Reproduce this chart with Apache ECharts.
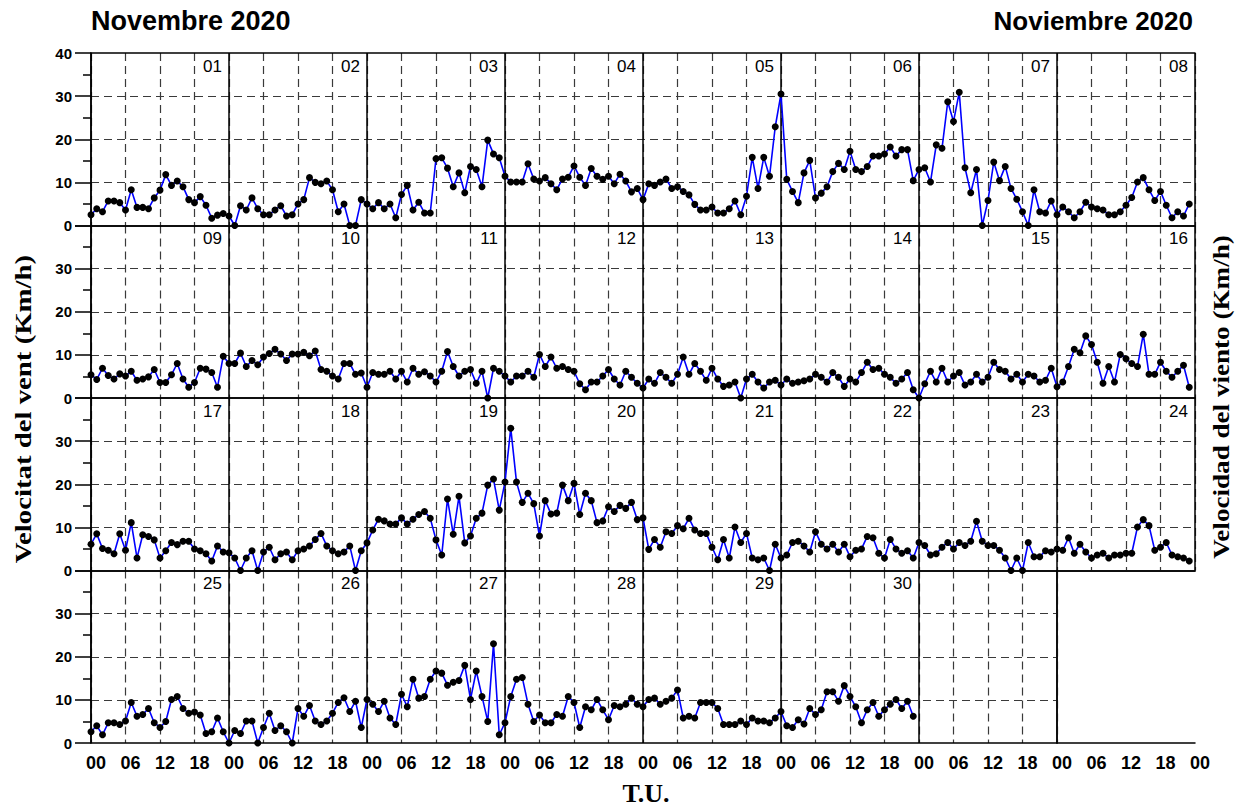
<!DOCTYPE html>
<html>
<head>
<meta charset="utf-8">
<title>Velocitat del vent - Novembre 2020</title>
<script src="https://cdn.jsdelivr.net/npm/echarts@6/dist/echarts.min.js"></script>
<style>
  html, body { margin: 0; padding: 0; background: #fff; }
  #chart { width: 1251px; height: 812px; }
</style>
</head>
<body>
<div id="chart"></div>
<script>
// hourly wind speed (km/h), one array per day, hours 00..23
const day01 = [2.5, 3.9, 3.2, 5.7, 5.7, 5.3, 3.6, 8.3, 4.2, 4.2, 3.9, 6.4, 8.2, 11.8, 9.3, 10.3, 9.0, 6.0, 5.3, 6.7, 4.7, 1.7, 2.4, 2.8];
const day02 = [2.2, 0, 4.6, 3.6, 6.4, 3.9, 2.5, 2.5, 3.6, 4.6, 2.2, 2.5, 5.0, 6.0, 11.1, 10.0, 9.7, 10.3, 8.3, 3.2, 5.0, 0, 0, 6.0];
const day03 = [5.0, 3.9, 5.3, 3.9, 5.0, 1.8, 7.2, 9.3, 3.6, 5.4, 2.9, 2.9, 15.5, 15.7, 13.3, 9.0, 12.2, 7.6, 13.7, 13.0, 9.0, 19.8, 16.6, 15.7];
const day04 = [11.4, 10.1, 10.1, 10.1, 14.3, 10.8, 10.3, 11.1, 9.7, 8.3, 10.8, 11.2, 13.8, 11.2, 9.3, 13.2, 11.4, 10.7, 11.4, 9.7, 11.9, 10.3, 7.8, 8.6];
const day05 = [6.0, 9.7, 9.3, 10.1, 10.8, 8.6, 9.0, 7.9, 7.1, 4.9, 3.6, 3.6, 4.3, 2.9, 2.9, 3.9, 5.7, 2.5, 6.8, 15.8, 8.6, 15.8, 11.4, 22.9];
const day06 = [30.5, 10.7, 7.9, 5.3, 12.2, 15.1, 6.4, 7.5, 9.0, 12.5, 14.4, 13.0, 17.2, 13.0, 12.5, 13.7, 16.1, 16.1, 16.6, 18.2, 16.1, 17.6, 17.6, 10.4];
const day07 = [13.0, 13.4, 10.1, 18.7, 17.9, 28.7, 24.1, 30.9, 13.4, 7.6, 13.0, 0, 5.8, 14.7, 10.4, 13.7, 8.6, 6.1, 3.2, 0, 8.3, 3.2, 2.9, 5.7];
const day08 = [2.5, 4.3, 3.2, 1.8, 3.2, 5.4, 4.3, 3.9, 3.6, 2.5, 2.5, 3.2, 4.7, 6.5, 10.1, 11.1, 8.3, 5.8, 7.9, 4.7, 1.8, 3.2, 2.2, 5.0];
const day09 = [5.4, 4.3, 6.9, 5.2, 4.4, 5.6, 5.1, 6.2, 4.1, 4.4, 4.9, 6.6, 3.6, 3.6, 5.4, 8.0, 4.4, 2.5, 3.6, 6.9, 6.7, 5.9, 2.5, 9.7];
const day10 = [8.0, 8.0, 10.4, 7.3, 8.7, 7.7, 9.5, 10.3, 11.3, 10.2, 8.7, 10.2, 10.2, 10.6, 9.8, 10.9, 6.6, 6.2, 5.1, 4.4, 8.0, 8.0, 5.5, 5.8];
const day11 = [2.5, 5.9, 5.5, 5.5, 6.2, 4.4, 6.2, 3.7, 6.9, 5.5, 6.1, 5.1, 3.7, 6.2, 10.8, 7.3, 5.1, 6.2, 6.6, 3.4, 6.2, 0, 6.9, 6.2];
const day12 = [5.1, 3.7, 5.1, 5.1, 6.2, 4.8, 10.1, 7.3, 9.5, 6.9, 7.3, 6.6, 6.2, 3.3, 1.9, 3.7, 3.7, 5.1, 6.6, 4.4, 3.0, 6.2, 4.8, 3.4];
const day13 = [2.3, 4.4, 3.4, 5.9, 4.8, 3.4, 5.5, 9.5, 5.5, 8.0, 6.2, 4.1, 6.9, 4.4, 2.7, 3.0, 3.7, 0, 4.4, 5.5, 3.7, 2.3, 3.7, 4.1];
const day14 = [3.0, 4.4, 3.4, 3.7, 4.0, 4.4, 5.5, 4.8, 3.7, 5.9, 4.8, 2.7, 4.4, 3.7, 5.9, 8.3, 6.6, 6.9, 5.5, 4.8, 3.4, 4.4, 5.9, 1.9];
const day15 = [0, 3.3, 6.2, 3.7, 6.9, 3.7, 5.1, 5.9, 3.0, 3.7, 5.5, 3.7, 4.8, 8.3, 6.6, 6.2, 4.4, 5.5, 3.7, 5.5, 5.1, 3.7, 4.1, 6.9];
const day16 = [2.6, 3.7, 7.3, 11.3, 10.5, 14.4, 12.4, 8.3, 3.4, 7.3, 3.7, 10.1, 9.1, 8.0, 7.3, 14.8, 5.5, 5.5, 8.3, 6.2, 4.8, 6.2, 7.6, 2.5];
const day17 = [6.1, 8.5, 5.1, 4.7, 3.9, 8.5, 4.7, 11.1, 2.9, 8.3, 7.9, 7.1, 2.9, 4.6, 6.5, 6.0, 6.8, 6.8, 5.0, 4.6, 3.9, 2.2, 5.7, 4.3];
const day18 = [4.1, 2.9, 0, 2.9, 4.6, 0, 4.3, 5.4, 2.5, 3.9, 4.3, 2.5, 4.6, 5.0, 5.7, 7.2, 8.6, 5.7, 4.6, 3.9, 4.3, 5.7, 0, 4.6];
const day19 = [6.4, 9.4, 11.9, 11.5, 10.8, 10.8, 12.2, 10.8, 11.9, 13.0, 13.7, 12.1, 7.1, 3.6, 16.6, 8.4, 17.2, 6.4, 8.0, 12.1, 13.3, 19.8, 21.2, 14.0];
const day20 = [20.5, 33.0, 20.5, 15.8, 17.9, 15.5, 8.0, 16.2, 13.1, 13.3, 19.8, 16.2, 20.2, 13.0, 17.9, 16.2, 11.1, 11.5, 14.8, 13.7, 15.1, 14.4, 15.8, 11.8];
const day21 = [12.2, 4.9, 7.2, 5.4, 9.0, 8.6, 10.4, 9.7, 12.1, 9.4, 8.6, 8.6, 5.4, 2.5, 7.2, 2.9, 10.1, 6.5, 8.6, 2.9, 2.5, 2.9, 0, 6.1];
const day22 = [2.9, 3.6, 6.5, 6.8, 5.7, 4.3, 9.0, 6.1, 5.0, 6.1, 4.3, 6.1, 3.2, 4.7, 5.0, 7.9, 7.6, 4.0, 2.9, 7.2, 5.0, 4.0, 4.6, 2.9];
const day23 = [6.5, 5.8, 3.6, 3.9, 5.4, 6.5, 5.0, 6.5, 5.8, 6.8, 11.4, 6.8, 5.8, 5.8, 4.7, 2.9, 0, 2.9, 0, 6.5, 3.2, 3.2, 4.6, 4.3];
const day24 = [5.0, 4.7, 7.6, 4.0, 6.1, 4.3, 2.9, 3.6, 4.0, 2.9, 3.6, 3.6, 4.0, 4.0, 10.1, 11.8, 10.4, 4.7, 5.4, 6.5, 3.6, 3.2, 2.9, 2.2];
const day25 = [2.6, 4.0, 1.9, 4.7, 4.7, 4.3, 5.1, 9.4, 6.2, 6.6, 8.0, 4.7, 3.6, 5.0, 10.1, 10.8, 8.0, 6.9, 7.2, 6.5, 2.2, 2.6, 5.8, 2.6];
const day26 = [0, 2.9, 2.2, 5.1, 5.1, 0, 3.6, 6.9, 2.9, 4.0, 2.6, 0, 8.0, 6.2, 8.7, 5.1, 4.3, 5.1, 6.9, 9.4, 10.5, 7.3, 9.7, 3.6];
const day27 = [10.1, 9.0, 7.3, 9.7, 5.8, 4.3, 11.3, 8.4, 14.8, 10.4, 10.8, 14.8, 16.7, 16.2, 13.4, 14.1, 14.5, 18.0, 10.1, 16.7, 10.8, 5.0, 23.0, 1.9];
const day28 = [4.7, 10.8, 14.8, 15.2, 9.0, 5.0, 6.5, 4.7, 4.7, 6.6, 6.2, 10.8, 9.4, 3.6, 8.4, 7.7, 10.1, 7.7, 5.4, 8.7, 8.4, 9.0, 10.4, 9.0];
const day29 = [8.4, 10.1, 10.4, 9.0, 9.7, 10.4, 12.3, 5.8, 6.2, 5.8, 9.4, 9.4, 9.4, 8.0, 4.3, 4.3, 4.3, 5.1, 4.3, 5.8, 5.1, 5.1, 4.7, 5.8];
const day30 = [7.3, 4.0, 3.6, 5.4, 4.4, 8.0, 6.6, 7.7, 11.9, 11.9, 9.7, 13.3, 10.8, 8.4, 4.7, 7.7, 9.4, 6.2, 7.7, 9.0, 10.1, 8.0, 9.7, 6.2];

const days = [day01, day02, day03, day04, day05, day06, day07, day08, day09, day10,
  day11, day12, day13, day14, day15, day16, day17, day18, day19, day20,
  day21, day22, day23, day24, day25, day26, day27, day28, day29, day30];
const dayLabels = ['01', '02', '03', '04', '05', '06', '07', '08', '09', '10',
  '11', '12', '13', '14', '15', '16', '17', '18', '19', '20',
  '21', '22', '23', '24', '25', '26', '27', '28', '29', '30'];
const hourLabels = ['00', '06', '12', '18'];

// layout (px)
const LEFT = 91;
const TOP = 53;
const DAY_W = 138;
const ROW_H = 172.5;
const PER_ROW = 8;
const SANS = '"Liberation Sans", Arial, sans-serif';
const SERIF = '"Liberation Serif", "Times New Roman", serif';

const dashed = { color: '#3a3a3a', width: 1.2, type: [8, 5] };
const solid = { color: '#000', width: 1.5 };

const hourFmt = (v) => hourLabels[(v % 24) / 6];
const xLabel = {
  show: true,
  color: '#000',
  fontFamily: SANS,
  fontWeight: 'bold',
  fontSize: 18,
  margin: 11,
  padding: [0, 0, 0, 10],
  formatter: hourFmt,
};

const grid = [];
const xAxis = [];
const yAxis = [];
const series = [];

for (let r = 0; r < 4; r++) {
  const rowDays = days.slice(r * PER_ROW, r * PER_ROW + PER_ROW);
  const cols = r < 3 ? 8 : 7; // last row: one empty framed day, then a blank box
  const maxH = cols * 24;
  const top = TOP + r * ROW_H;
  const isLast = r === 3;

  grid.push({ left: LEFT, top, width: cols * DAY_W, height: ROW_H });

  // 6-hourly dashed grid (+ bottom line, + hour labels on the last row)
  xAxis.push({
    type: 'value', gridIndex: r, min: 0, max: maxH, interval: 6, position: 'bottom', z: 1,
    axisLine: { show: true, lineStyle: solid },
    axisTick: { show: false },
    axisLabel: isLast ? xLabel : { show: false },
    splitLine: { show: true, lineStyle: dashed },
  });
  // day boundaries, solid (+ top line)
  xAxis.push({
    type: 'value', gridIndex: r, min: 0, max: maxH, interval: 24, position: 'top', z: 2,
    axisLine: { show: true, lineStyle: solid },
    axisTick: { show: false },
    axisLabel: { show: false },
    splitLine: { show: true, lineStyle: solid },
  });
  yAxis.push({
    type: 'value', gridIndex: r, min: 0, max: 40, interval: 10, position: 'left', z: 2,
    axisLine: { show: true, lineStyle: solid },
    axisTick: { show: true, length: 16, lineStyle: solid },
    minorTick: { show: true, splitNumber: 2, length: 8, lineStyle: solid },
    axisLabel: {
      color: '#000', fontFamily: SANS, fontWeight: 'bold', fontSize: 15, margin: 19,
      showMaxLabel: r === 0,
    },
    splitLine: { show: true, showMinLine: false, showMaxLine: false, lineStyle: dashed },
  });

  series.push({
    type: 'line',
    xAxisIndex: 2 * r,
    yAxisIndex: r,
    data: rowDays.flatMap((vals, k) => vals.map((v, h) => [k * 24 + h, v])),
    symbol: 'circle',
    symbolSize: 7,
    showAllSymbol: true,
    itemStyle: { color: '#000' },
    lineStyle: { color: '#0000ff', width: 1.6 },
    z: 10,
    animation: false,
    silent: true,
  });
  // day number in the upper right corner of each day box
  series.push({
    type: 'scatter',
    xAxisIndex: 2 * r + 1,
    yAxisIndex: r,
    data: rowDays.map((vals, k) => [(k + 1) * 24, 40, dayLabels[r * PER_ROW + k]]),
    symbolSize: 0,
    silent: true,
    animation: false,
    z: 11,
    label: {
      show: true,
      position: 'left',
      distance: 7,
      offset: [0, 13],
      color: '#000',
      opacity: 1,
      fontFamily: SANS,
      fontSize: 17,
      formatter: (p) => p.data[2],
    },
  });
}

// blank box at the end of the last row
const lastTop = TOP + 3 * ROW_H;
grid.push({ left: LEFT + 7 * DAY_W, top: lastTop, width: DAY_W, height: ROW_H });
xAxis.push({
  type: 'value', gridIndex: 4, min: 0, max: 24, interval: 6, position: 'bottom',
  axisLine: { show: true, lineStyle: solid },
  axisTick: { show: false },
  axisLabel: { ...xLabel, showMinLabel: false },
  splitLine: { show: false },
});
xAxis.push({
  type: 'value', gridIndex: 4, min: 0, max: 24, position: 'top',
  axisLine: { show: true, lineStyle: solid },
  axisTick: { show: false },
  axisLabel: { show: false },
  splitLine: { show: false },
});
yAxis.push({
  type: 'value', gridIndex: 4, min: 0, max: 40, position: 'right',
  axisLine: { show: true, lineStyle: solid },
  axisTick: { show: false },
  axisLabel: { show: false },
  splitLine: { show: false },
});

const graphic = [
  {
    type: 'text', x: LEFT, y: 21,
    style: { text: 'Novembre 2020', font: 'bold 27px ' + SANS, fill: '#000', align: 'left', verticalAlign: 'middle' },
  },
  {
    type: 'text', x: 1193, y: 21,
    style: { text: 'Noviembre 2020', font: 'bold 26px ' + SANS, fill: '#000', align: 'right', verticalAlign: 'middle' },
  },
  {
    type: 'text', x: 22.5, y: 409, rotation: Math.PI / 2, scaleX: 1.2,
    style: { text: 'Velocitat del vent (Km/h)', font: 'bold 24px ' + SERIF, fill: '#000', align: 'center', verticalAlign: 'middle' },
  },
  {
    type: 'text', x: 1221, y: 397, rotation: Math.PI / 2, scaleX: 1.13,
    style: { text: 'Velocidad del viento (Km/h)', font: 'bold 24px ' + SERIF, fill: '#000', align: 'center', verticalAlign: 'middle' },
  },
  {
    type: 'text', x: 646, y: 793,
    style: { text: 'T.U.', font: 'bold 26px ' + SERIF, fill: '#000', align: 'center', verticalAlign: 'middle' },
  },
];

const chart = echarts.init(document.getElementById('chart'), null, { renderer: 'svg' });
chart.setOption({
  animation: false,
  backgroundColor: '#fff',
  grid,
  xAxis,
  yAxis,
  series,
  graphic,
});
</script>
</body>
</html>
